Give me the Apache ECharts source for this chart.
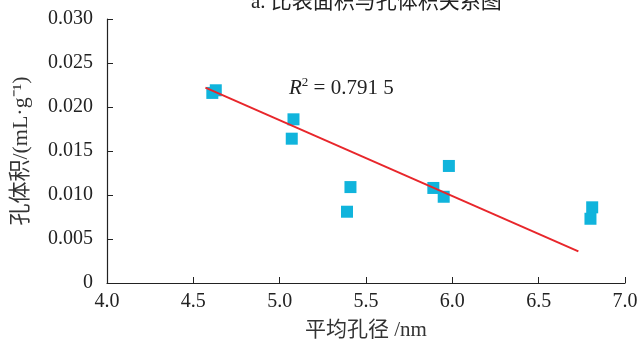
<!DOCTYPE html>
<html>
<head>
<meta charset="utf-8">
<script src="https://cdn.jsdelivr.net/npm/echarts@6/dist/echarts.min.js"></script>
<style>
  html, body { margin: 0; padding: 0; background: #fff; }
  #chart { width: 640px; height: 343px; }
</style>
</head>
<body>
<div id="chart"></div>
<script>
// 平均孔径 (nm) 与 孔体积 (mL/g)
const poreSize = [4.61, 4.63, 5.08, 5.07, 5.41, 5.39, 5.98, 5.89, 5.95, 6.81, 6.80];
const poreVolume = [0.0216, 0.0219, 0.0186, 0.0164, 0.0109, 0.0081, 0.0133, 0.0108, 0.0098, 0.0086, 0.0073];
// 拟合线两端
const fitX = [4.57, 6.73];
const fitY = [0.0222, 0.0036];

const serif = '"Liberation Serif", "Noto Sans CJK SC", serif';

const chart = echarts.init(document.getElementById('chart'), null, { renderer: 'canvas' });

const option = {
  backgroundColor: '#fff',
  animation: false,
  title: {
    text: 'a. 比表面积与孔体积关系图',
    left: 246,
    top: -13,
    textStyle: { fontFamily: serif, fontSize: 21, fontWeight: 'normal', color: '#222' },
  },
  grid: { left: 107, right: 15, top: 19, bottom: 60, outerBoundsMode: 'none' },
  xAxis: {
    type: 'value',
    min: 4,
    max: 7,
    interval: 0.5,
    name: '平均孔径 /nm',
    nameLocation: 'middle',
    nameGap: 37,
    nameTextStyle: { fontFamily: serif, fontSize: 21, color: '#333' },
    axisLine: { show: true, lineStyle: { color: '#222', width: 1.2 } },
    axisTick: { show: true, inside: true, length: 6, lineStyle: { color: '#222' } },
    axisLabel: {
      margin: 9,
      fontFamily: serif,
      fontSize: 20,
      color: '#222',
      formatter: v => v.toFixed(1),
    },
    splitLine: { show: false },
  },
  yAxis: {
    type: 'value',
    min: 0,
    max: 0.03,
    interval: 0.005,
    name: '孔体积/(mL·g⁻¹)',
    nameLocation: 'middle',
    nameRotate: 90,
    nameGap: 75,
    nameTextStyle: { fontFamily: serif, fontSize: 22, color: '#333' },
    axisLine: { show: true, lineStyle: { color: '#222', width: 1.2 } },
    axisTick: { show: true, inside: true, length: 6, lineStyle: { color: '#222' } },
    axisLabel: {
      margin: 14,
      fontFamily: serif,
      fontSize: 20,
      color: '#222',
      formatter: v => (v === 0 ? '0' : v.toFixed(3)),
    },
    splitLine: { show: false },
  },
  graphic: [
    {
      type: 'text',
      left: 289,
      top: 76,
      style: {
        text: '{r|R}{s|2}{n| = 0.791 5}',
        rich: {
          r: { fontFamily: serif, fontSize: 21, fontStyle: 'italic', fill: '#222', lineHeight: 24 },
          s: { fontFamily: serif, fontSize: 13, fill: '#222', verticalAlign: 'top', lineHeight: 24, padding: [0, 0, 8, 0] },
          n: { fontFamily: serif, fontSize: 21, fill: '#222', lineHeight: 24 },
        },
      },
    },
  ],
  series: [
    {
      type: 'scatter',
      symbol: 'rect',
      symbolSize: 12,
      itemStyle: { color: '#10b4dc', opacity: 1 },
      data: poreSize.map((x, i) => [x, poreVolume[i]]),
      z: 2,
    },
    {
      type: 'line',
      showSymbol: false,
      symbol: 'none',
      lineStyle: { color: '#e8262b', width: 2 },
      data: fitX.map((x, i) => [x, fitY[i]]),
      z: 3,
    },
  ],
};

chart.setOption(option);
</script>
</body>
</html>
